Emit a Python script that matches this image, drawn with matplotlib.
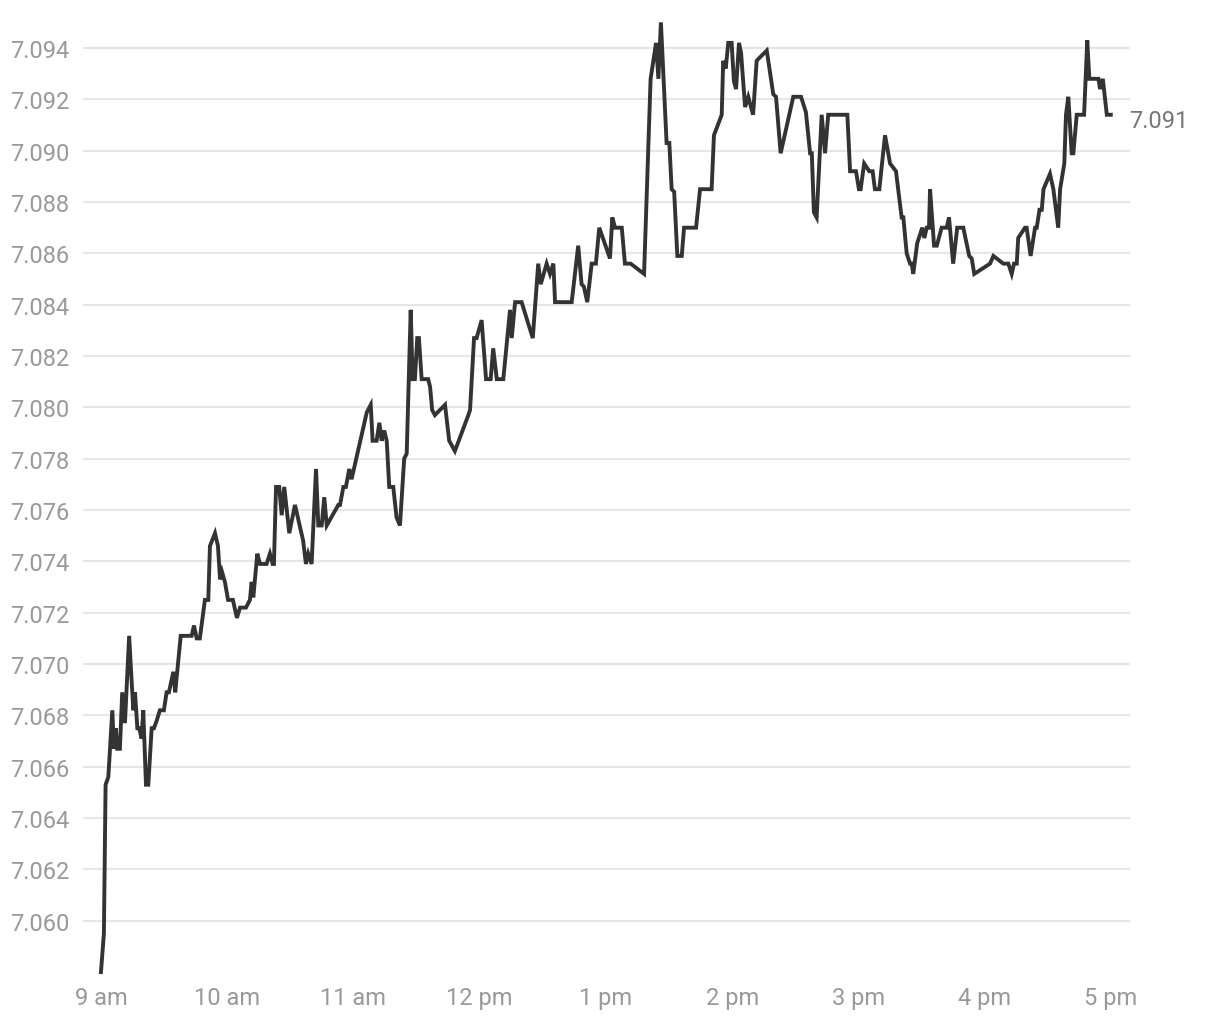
import numpy as np
import matplotlib.pyplot as plt

plt.rcParams['font.family'] = ['Roboto', 'DejaVu Sans']

# minutes after 9 am
minutes = [0, 1.4, 2.2, 3.5, 5.4, 6.2, 7.1, 7.7, 9.0, 10.1, 11.4, 13.4, 14.6, 15.4, 16.2, 17.3,
           18.2, 19.3, 20.1, 21.4, 22.5, 24.1, 25.2, 26.5, 28.0, 29.9, 31.2, 32.3, 34.4, 35.3,
           37.9, 43.1, 44.2, 45.5, 47.0, 49.4, 51.0, 51.8, 54.2, 55.6, 56.6, 57.5, 58.9, 60.4,
           62.7, 64.6, 66.1, 68.9, 70.8, 71.6, 72.4, 74.3, 75.6, 78.7, 80.3, 81.6, 82.2, 83.2,
           84.7, 85.9, 87.1, 89.5, 92.2, 96.1, 97.4, 98.5, 100.1, 102.2, 103.3, 104.9, 106.1,
           107.3, 112.8, 113.6, 115.2, 116.4, 118.0, 119.1, 126.3, 128.2, 129.1, 131.0, 132.3,
           133.4, 134.6, 135.8, 137.0, 138.9, 140.5, 142.1, 144.1, 145.3, 147.2, 148.1, 149.2,
           150.3, 151.1, 152.4, 155.5, 156.4, 157.4, 158.7, 163.5, 165.5, 168.2, 174.6, 175.4,
           177.3, 178.5, 180.9, 183.0, 185.2, 186.4, 188.1, 191.2, 194.4, 195.2, 196.8, 199.9,
           205.2, 207.8, 209.0, 211.8, 213.4, 215.0, 215.8, 223.7, 226.8, 228.4, 229.5, 231.1,
           233.2, 235.2, 236.8, 241.9, 243.0, 244.3, 247.5, 249.0, 251.7, 258.1, 261.2, 263.8,
           264.9, 266.1, 268.8, 270.1, 271.2, 272.4, 273.9, 276.0, 277.1, 282.8, 284.7, 290.2,
           291.3, 295.0, 295.7, 296.9, 298.1, 299.7, 300.8, 301.8, 303.2, 304.2, 306.1, 307.6,
           309.9, 311.6, 312.7, 316.4, 319.5, 320.8, 323.0, 329.0, 332.7, 335.0, 337.0, 337.8,
           338.8, 340.1, 342.5, 344.1, 345.6, 354.7, 356.0, 358.8, 360.2, 361.0, 362.7, 365.1,
           366.7, 367.8, 369.9, 372.6, 375.0, 377.8, 380.5, 381.3, 382.9, 384.5, 385.3, 386.0,
           387.9, 390.3, 391.3, 392.4, 393.5, 394.0, 395.9, 397.2, 399.5, 401.9, 403.0, 405.0,
           406.9, 409.8, 412.6, 413.8, 415.0, 422.5, 424.1, 428.8, 431.2, 432.8, 433.9, 435.2,
           435.9, 439.1, 439.9, 441.8, 443.9, 444.7, 446.0, 447.1, 447.9, 451.0, 452.6, 454.9,
           455.8, 457.8, 458.6, 459.7, 461.3, 462.1, 463.7, 467.2, 468.7, 469.7, 474.0, 474.8,
           476.1, 478.0, 479.9]

rate = [7.0580, 7.0595, 7.0653, 7.0656, 7.0682, 7.0667, 7.0675, 7.0667, 7.0667, 7.0689, 7.0677,
        7.0711, 7.0693, 7.0682, 7.0689, 7.0675, 7.0675, 7.0671, 7.0682, 7.0653, 7.0653, 7.0675,
        7.0675, 7.0678, 7.0682, 7.0682, 7.0689, 7.0689, 7.0697, 7.0689, 7.0711, 7.0711, 7.0715,
        7.0710, 7.0710, 7.0725, 7.0725, 7.0746, 7.0751, 7.0746, 7.0733, 7.0736, 7.0732, 7.0725,
        7.0725, 7.0718, 7.0722, 7.0722, 7.0725, 7.0732, 7.0726, 7.0743, 7.0739, 7.0739, 7.0743,
        7.0739, 7.0739, 7.0769, 7.0769, 7.0758, 7.0769, 7.0751, 7.0762, 7.0748, 7.0739, 7.0743,
        7.0739, 7.0776, 7.0754, 7.0754, 7.0765, 7.0754, 7.0762, 7.0762, 7.0769, 7.0769, 7.0776,
        7.0772, 7.0798, 7.0801, 7.0787, 7.0787, 7.0794, 7.0787, 7.0791, 7.0787, 7.0769, 7.0769,
        7.0757, 7.0754, 7.0780, 7.0782, 7.0838, 7.0811, 7.0811, 7.0827, 7.0827, 7.0811, 7.0811,
        7.0808, 7.0799, 7.0797, 7.0801, 7.0787, 7.0783, 7.0797, 7.0799, 7.0827, 7.0827, 7.0834,
        7.0811, 7.0811, 7.0823, 7.0811, 7.0811, 7.0838, 7.0827, 7.0841, 7.0841, 7.0827, 7.0856,
        7.0848, 7.0856, 7.0852, 7.0856, 7.0841, 7.0841, 7.0863, 7.0848, 7.0847, 7.0841, 7.0856,
        7.0856, 7.0870, 7.0858, 7.0874, 7.0870, 7.0870, 7.0856, 7.0856, 7.0852, 7.0928, 7.0942,
        7.0928, 7.0950, 7.0903, 7.0903, 7.0885, 7.0884, 7.0859, 7.0859, 7.0870, 7.0870, 7.0885,
        7.0885, 7.0906, 7.0914, 7.0935, 7.0932, 7.0942, 7.0942, 7.0927, 7.0924, 7.0942, 7.0938,
        7.0917, 7.0921, 7.0914, 7.0935, 7.0936, 7.0939, 7.0922, 7.0921, 7.0899, 7.0921, 7.0921,
        7.0915, 7.0899, 7.0899, 7.0876, 7.0874, 7.0914, 7.0899, 7.0914, 7.0914, 7.0892, 7.0892,
        7.0885, 7.0885, 7.0895, 7.0892, 7.0892, 7.0885, 7.0885, 7.0906, 7.0895, 7.0892, 7.0874,
        7.0874, 7.0860, 7.0856, 7.0856, 7.0852, 7.0864, 7.0870, 7.0866, 7.0870, 7.0870, 7.0885,
        7.0863, 7.0863, 7.0870, 7.0870, 7.0874, 7.0856, 7.0870, 7.0870, 7.0859, 7.0858, 7.0852,
        7.0856, 7.0859, 7.0856, 7.0856, 7.0852, 7.0856, 7.0856, 7.0866, 7.0870, 7.0870, 7.0859,
        7.0870, 7.0870, 7.0877, 7.0877, 7.0885, 7.0891, 7.0885, 7.0870, 7.0885, 7.0895, 7.0914,
        7.0921, 7.0899, 7.0899, 7.0914, 7.0914, 7.0943, 7.0928, 7.0928, 7.0924, 7.0928, 7.0914,
        7.0914]

hour_ticks = [0, 60, 120, 180, 240, 300, 360, 420, 480]
hour_labels = ['9 am', '10 am', '11 am', '12 pm', '1 pm', '2 pm', '3 pm', '4 pm', '5 pm']
y_ticks = np.arange(7.060, 7.0945, 0.002)

fig = plt.figure(figsize=(12.2, 10.2), dpi=100)
ax = fig.add_axes([0.068, 0.0422, 0.8582, 0.9412])

ax.plot(minutes, rate, color='#333333', linewidth=2.8, solid_joinstyle='miter', zorder=3)

ax.set_xlim(-8.55, 489.0)
ax.set_ylim(7.05785, 7.09525)
ax.set_xticks(hour_ticks)
ax.set_xticklabels(hour_labels)
ax.set_yticks(y_ticks)
ax.set_yticklabels([f'{v:.3f}' for v in y_ticks])
ax.grid(axis='y', color='#e6e6e6', linewidth=1.5)
ax.set_axisbelow(True)
ax.tick_params(axis='both', length=0, labelsize=17, colors='#999999')
ax.tick_params(axis='y', pad=10)
ax.tick_params(axis='x', pad=7.5)
for s in ax.spines.values():
    s.set_visible(False)

ax.annotate(f'{rate[-1]:.3f}', xy=(minutes[-1], rate[-1]), xytext=(13, -4),
            textcoords='offset points', fontsize=17, color='#777777',
            va='center', ha='left', annotation_clip=False)

fig.savefig('out.png', dpi=100, facecolor='white')
